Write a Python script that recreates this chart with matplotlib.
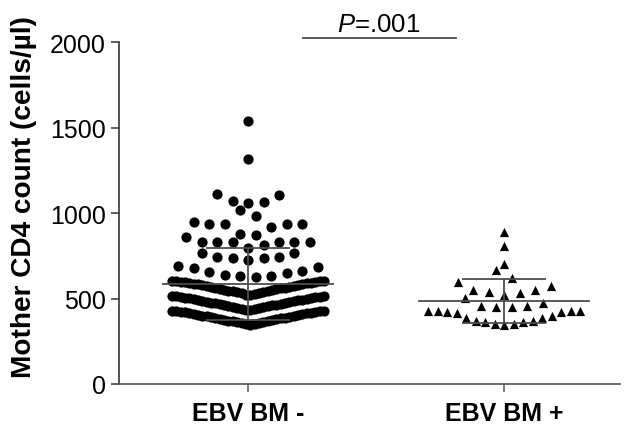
"""
Mother CD4 count by infant EBV BM status: scatter dot plot with mean +/- SD.
"""

import numpy as np
import matplotlib
matplotlib.use('Agg')
import matplotlib.pyplot as plt


plt.rcParams['font.family'] = ['Liberation Sans', 'DejaVu Sans']
plt.rcParams['mathtext.fontset'] = 'custom'
plt.rcParams['mathtext.rm'] = 'Liberation Sans'
plt.rcParams['mathtext.it'] = 'Liberation Sans:italic'

LINE_GRAY = '#4d4d4d'

groups = ['EBV BM -', 'EBV BM +']
p_label = '.001'

# CD4 counts (cells/ul), EBV BM negative mothers
cd4_neg = [
    # 342-430
    346, 349, 352, 355, 357, 361, 363, 366, 369, 371, 374, 376, 379, 382, 384, 387, 389, 392,
    394, 397, 399, 401, 404, 406, 409, 411, 413, 416, 418, 420, 422, 424, 425, 427, 428, 429,
    # 430-518
    432, 436, 439, 442, 445, 447, 450, 453, 455, 458, 460, 463, 465, 468, 470, 473, 475, 477,
    480, 482, 485, 487, 489, 492, 494, 496, 498, 501, 503, 505, 507, 509, 511, 513, 515, 517,
    # 518-606
    520, 524, 527, 530, 533, 536, 539, 542, 545, 547, 550, 553, 555, 558, 560, 563, 565, 568,
    570, 573, 575, 578, 580, 583, 585, 587, 589, 591, 593, 595, 597, 599, 601, 602, 604, 605,
    # upper tail
    628, 632, 635, 639, 649, 655, 659, 680, 688, 692,
    729, 735, 735, 743, 743, 768, 768,
    796, 815, 833, 833, 833, 833, 833, 833, 862,
    870, 876, 917, 935, 935, 935, 935, 950,
    983, 1020,
    1062, 1067, 1070, 1108, 1110,
    1320, 1538,
]

# CD4 counts (cells/ul), EBV BM positive mothers
cd4_pos = [
    346, 352, 352, 361, 361, 371, 371, 387, 387, 397, 416, 420, 424, 426, 427, 428, 429,
    450, 450, 459, 459, 475, 504,
    522, 534, 541, 551, 551, 573, 600,
    623, 665,
    700,
    808,
    890,
]

ROW_START = 342      # binning for the dot rows
ROW_HEIGHT = 88
STEP = 0.0605        # spacing between neighbours in a row (x units)
MAX_WIDTH = 0.594    # widest a row may spread


def swarm_x(values, center):
    """GraphPad-like layout: bin into rows, lowest values in the middle."""
    values = np.asarray(values, dtype=float)
    xs = np.zeros_like(values)
    rows = np.floor((values - ROW_START) / ROW_HEIGHT).astype(int)
    for r in np.unique(rows):
        idx = np.where(rows == r)[0]
        idx = idx[np.argsort(values[idx], kind='stable')]
        n = len(idx)
        step = STEP if n < 2 else min(STEP, MAX_WIDTH / (n - 1))
        slots = np.arange(n) - (n - 1) / 2
        slots = sorted(slots, key=lambda s: (abs(s), s < 0))
        for i, s in zip(idx, slots):
            xs[i] = center + s * step
    return xs


def mean_sd(ax, values, center):
    m = np.mean(values)
    sd = np.std(values, ddof=1)
    kw = dict(color=LINE_GRAY, linewidth=1.3, zorder=4, solid_capstyle='butt')
    ax.plot([center - 0.336, center + 0.336], [m, m], **kw)
    ax.plot([center, center], [m - sd, m + sd], **kw)
    for y in (m - sd, m + sd):
        ax.plot([center - 0.164, center + 0.164], [y, y], **kw)


fig = plt.figure(figsize=(6.29, 4.27), dpi=100)
ax = fig.add_axes([0.1892, 0.0984, 0.7965, 0.7998])

ax.scatter(swarm_x(cd4_neg, 1), cd4_neg, s=54, marker='o', color='black',
           linewidths=0, zorder=3)
ax.scatter(swarm_x(cd4_pos, 2), cd4_pos, s=44, marker='^', color='black',
           linewidths=0, zorder=3)

mean_sd(ax, cd4_neg, 1)
mean_sd(ax, cd4_pos, 2)

# significance bar
ax.plot([1.214, 1.8125], [2025, 2025], color=LINE_GRAY, linewidth=1.3, clip_on=False)
ax.text(1.508, 2066, r'$P$=' + p_label, ha='center', va='baseline', fontsize=18.5)

ax.set_xlim(0.496, 2.453)
ax.set_ylim(0, 2000)
ax.set_xticks([1, 2])
ax.set_xticklabels(groups, fontsize=18, fontweight='bold')
ax.set_yticks([0, 500, 1000, 1500, 2000])
ax.tick_params(axis='y', labelsize=18, length=5.5, width=1.1, pad=4, color='#333333')
ax.tick_params(axis='x', length=6, width=1.1, pad=6, color='#555555')

ax.set_ylabel('Mother CD4 count (cells/µl)', fontsize=20.2, fontweight='bold')
ax.yaxis.set_label_coords(-0.163, 0.55)

for side in ('top', 'right'):
    ax.spines[side].set_visible(False)
ax.spines['left'].set_color('#333333')
ax.spines['bottom'].set_color('#555555')
ax.spines['left'].set_linewidth(1.2)
ax.spines['bottom'].set_linewidth(1.2)

fig.savefig('out.png', dpi=100)
